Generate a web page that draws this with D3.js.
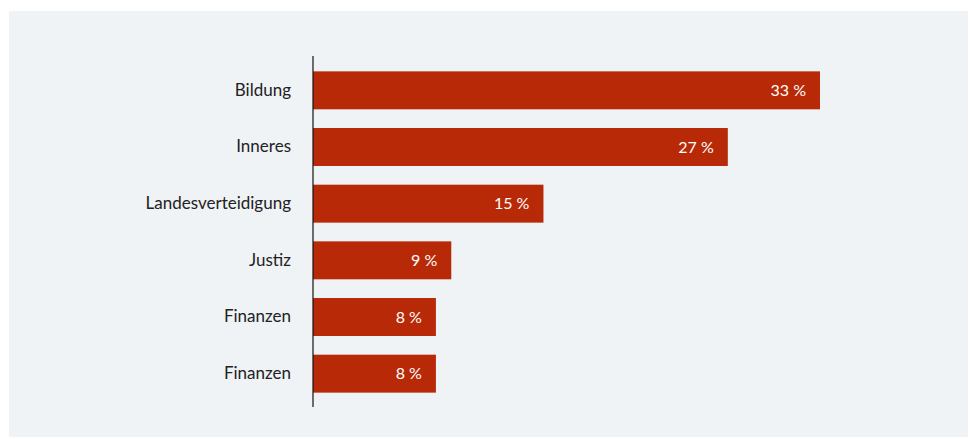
<!DOCTYPE html>
<html>
<head>
<meta charset="utf-8">
<script src="https://cdn.jsdelivr.net/npm/d3@7"></script>
<style>
  html, body { margin: 0; padding: 0; background: #ffffff; }
  svg { display: block; }
</style>
</head>
<body>
<svg id="chart" width="975" height="439"></svg>
<script>
const categories = ["Bildung", "Inneres", "Landesverteidigung", "Justiz", "Finanzen", "Finanzen"];
const values = [33, 27, 15, 9, 8, 8];
const valueLabels = ["33 %", "27 %", "15 %", "9 %", "8 %", "8 %"];

const svg = d3.select("#chart");

svg.append("rect")
  .attr("x", 9).attr("y", 11)
  .attr("width", 959).attr("height", 426)
  .attr("fill", "#eff3f6");

const x = d3.scaleLinear().domain([0, 33]).range([313, 820]);
const y = d3.scaleBand()
  .domain(d3.range(categories.length))
  .range([62, 402])
  .paddingInner(0.33)
  .paddingOuter(0.165);

const font = "Lato, 'Noto Sans', sans-serif";

svg.append("g").selectAll("rect")
  .data(values)
  .join("rect")
  .attr("x", x(0))
  .attr("y", (d, i) => y(i))
  .attr("width", d => x(d) - x(0))
  .attr("height", y.bandwidth())
  .attr("fill", "#b82a07");

svg.append("g").selectAll("text")
  .data(values)
  .join("text")
  .attr("x", d => x(d) - 14)
  .attr("y", (d, i) => y(i) + y.bandwidth() / 2)
  .attr("dy", "0.35em")
  .attr("text-anchor", "end")
  .attr("fill", "#ffffff")
  .style("font-family", font)
  .style("font-size", "16px")
  .text((d, i) => valueLabels[i]);

const axis = d3.axisLeft(y)
  .tickSize(0)
  .tickPadding(22)
  .tickFormat(i => categories[i]);

const ag = svg.append("g")
  .attr("transform", `translate(${x(0)},0)`)
  .call(axis);
ag.select(".domain").remove();
ag.selectAll("text")
  .attr("fill", "#222222")
  .style("font-family", font)
  .style("font-size", "17px");

svg.append("line")
  .attr("x1", x(0)).attr("x2", x(0))
  .attr("y1", 56).attr("y2", 407)
  .attr("stroke", "#111111")
  .attr("stroke-width", 1.2);
</script>
</body>
</html>
